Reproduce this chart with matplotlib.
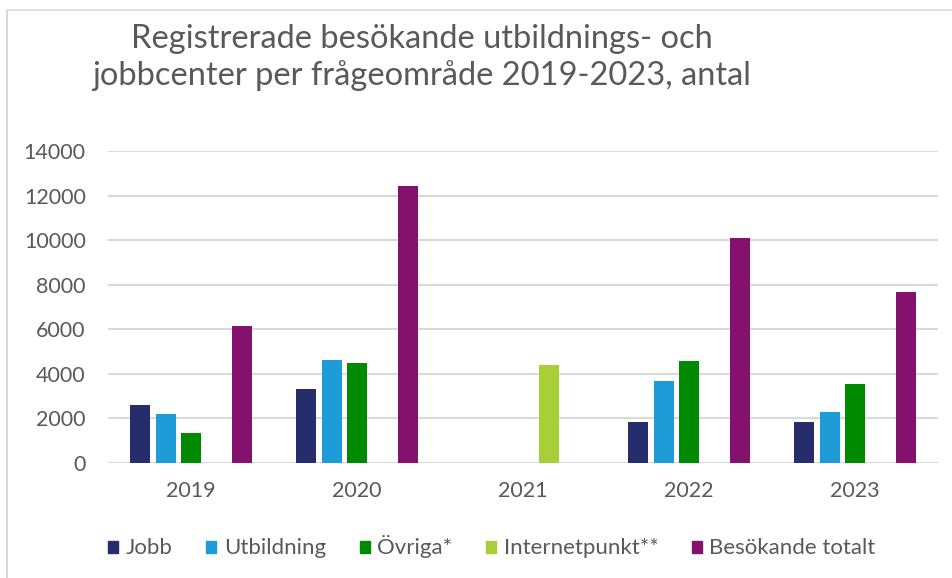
import numpy as np
import matplotlib.pyplot as plt
from matplotlib.lines import Line2D
from matplotlib.patches import Patch

plt.rcParams['font.family'] = ['Lato', 'DejaVu Sans']

years = ['2019', '2020', '2021', '2022', '2023']
series = ['Jobb', 'Utbildning', 'Övriga*', 'Internetpunkt**', 'Besökande totalt']
jobb = [2600, 3340, 0, 1830, 1830]
utbildning = [2190, 4600, 0, 3680, 2295]
ovriga = [1355, 4485, 0, 4560, 3530]
internetpunkt = [0, 0, 4400, 0, 0]
totalt = [6140, 12430, 0, 10075, 7690]
colors = ['#252D6C', '#1E9CD8', '#008A00', '#A8CF38', '#85116E']
yticks = [0, 2000, 4000, 6000, 8000, 10000, 12000, 14000]

grey = '#595959'
W, H = 953, 578
fig = plt.figure(figsize=(W / 100, H / 100), dpi=100)
ax = fig.add_axes([108 / W, 1 - 463 / H, (938 - 108) / W, (463 - 151) / H])

x = np.arange(len(years))
slot = 25.5 / 166
bw = 20 / 166
for i, vals in enumerate([jobb, utbildning, ovriga, internetpunkt, totalt]):
    ax.bar(x + (i - 2) * slot, vals, width=bw, color=colors[i], zorder=3)

ax.set_xlim(-0.5, 4.5)
ax.set_ylim(0, 14000)
ax.set_yticks(yticks)
ax.set_yticklabels([str(v) for v in yticks])
ax.set_xticks(x)
ax.set_xticklabels(years)
ax.grid(axis='y', color='#D9D9D9', lw=1.5, zorder=0)
ax.tick_params(axis='both', length=0, colors=grey, labelsize=15.5)
ax.tick_params(axis='y', pad=16)
ax.tick_params(axis='x', pad=13)
for s in ax.spines.values():
    s.set_visible(False)

fig.text(422 / W, 1 - 48 / H, 'Registrerade besökande utbildnings- och',
         ha='center', va='baseline', fontsize=23.5, color=grey)
fig.text(422 / W, 1 - 85 / H, 'jobbcenter per frågeområde 2019-2023, antal',
         ha='center', va='baseline', fontsize=23.5, color=grey)

handles = [Patch(color=c) for c in colors]
leg = fig.legend(handles, series, loc='center', bbox_to_anchor=(492 / W, 1 - 547 / H),
                 ncol=5, frameon=False, fontsize=16, handlelength=0.45, handleheight=0.45,
                 handletextpad=0.35, columnspacing=1.5)
for t in leg.get_texts():
    t.set_color(grey)

# chart frame (left and top edges only visible)
fig.add_artist(Line2D([6.5 / W, 6.5 / W], [0, 1 - 10 / H], color='#D9D9D9', lw=1.5))
fig.add_artist(Line2D([6.5 / W, 1], [1 - 10 / H, 1 - 10 / H], color='#D9D9D9', lw=1.2))

fig.savefig('out.png', dpi=100)
